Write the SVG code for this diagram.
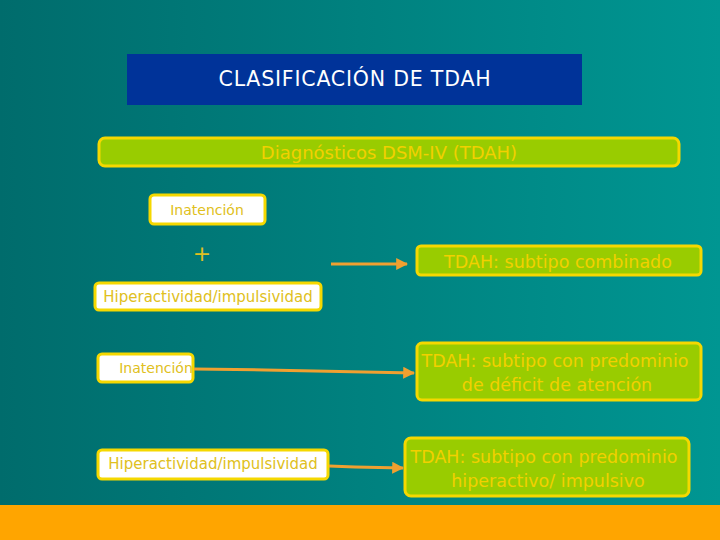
<svg xmlns="http://www.w3.org/2000/svg" width="720" height="540" viewBox="0 0 720 540">
<defs>
<linearGradient id="bg" x1="0" y1="0" x2="1" y2="0">
<stop offset="0" stop-color="#006C6C"/>
<stop offset="1" stop-color="#009692"/>
</linearGradient>
<marker id="ah" viewBox="0 0 10 10" refX="9" refY="5" markerWidth="4" markerHeight="4" orient="auto">
<path d="M0,0 L10,5 L0,10 z" fill="#F0A030"/>
</marker>
<style>
.green{fill:#99CC00;stroke:#F5D800;stroke-width:3}
.white{fill:#FFFFFF;stroke:#F5D800;stroke-width:3}
.gt{font-family:"DejaVu Sans",sans-serif;fill:#F2D000;text-anchor:middle}
.wt{font-family:"DejaVu Sans",sans-serif;fill:#E0C020;text-anchor:middle;font-size:14px}
.conn{stroke:#F0A030;stroke-width:3;fill:none;marker-end:url(#ah)}
</style>
</defs>
<rect x="0" y="0" width="720" height="540" fill="url(#bg)"/>
<rect x="0" y="505" width="720" height="35" fill="#FFA500"/>
<g id="title">
<rect x="127" y="54" width="455" height="51" fill="#003399"/>
<text x="355" y="86" font-family="DejaVu Sans, sans-serif" font-size="20.5" letter-spacing="0.8" fill="#FFFFFF" text-anchor="middle">CLASIFICACIÓN DE TDAH</text>
</g>
<g id="dsm">
<rect class="green" x="99" y="138" width="580" height="28" rx="6"/>
<text class="gt" x="389" y="159" font-size="18">Diagnósticos DSM-IV (TDAH)</text>
</g>
<g id="inatencion1">
<rect class="white" x="150" y="195" width="115" height="29" rx="4"/>
<text class="wt" x="207" y="215">Inatención</text>
</g>
<g id="plus">
<text x="202" y="261" font-family="DejaVu Sans, sans-serif" font-size="22" fill="#E0C020" text-anchor="middle">+</text>
</g>
<g id="hiper1">
<rect class="white" x="95" y="283" width="226" height="27" rx="4"/>
<text class="wt" x="208" y="302" style="font-size:15px">Hiperactividad/impulsividad</text>
</g>
<g id="combinado">
<rect class="green" x="417" y="246" width="284" height="29" rx="4"/>
<text class="gt" x="558" y="268" font-size="17.5">TDAH: subtipo combinado</text>
</g>
<g id="inatencion2">
<rect class="white" x="98" y="354" width="95" height="28" rx="4"/>
<text class="wt" x="156" y="373">Inatención</text>
</g>
<g id="deficit">
<rect class="green" x="417" y="343" width="284" height="57" rx="5"/>
<text class="gt" x="555" y="367" font-size="17.5">TDAH: subtipo con predominio</text>
<text class="gt" x="557" y="391" font-size="17.5">de déficit de atención</text>
</g>
<g id="hiper2">
<rect class="white" x="98" y="450" width="230" height="29" rx="4"/>
<text class="wt" x="213" y="469" style="font-size:15px">Hiperactividad/impulsividad</text>
</g>
<g id="hiperactivo">
<rect class="green" x="405" y="438" width="284" height="58" rx="6"/>
<text class="gt" x="544" y="463" font-size="17.5">TDAH: subtipo con predominio</text>
<text class="gt" x="548" y="487" font-size="17.5">hiperactivo/ impulsivo</text>
</g>
<g id="connectors">
<line class="conn" x1="331" y1="264" x2="407" y2="264"/>
<polyline class="conn" points="194,369 265,370 414,373"/>
<polyline class="conn" points="329,466 355,467 403,468"/>
</g>
</svg>
